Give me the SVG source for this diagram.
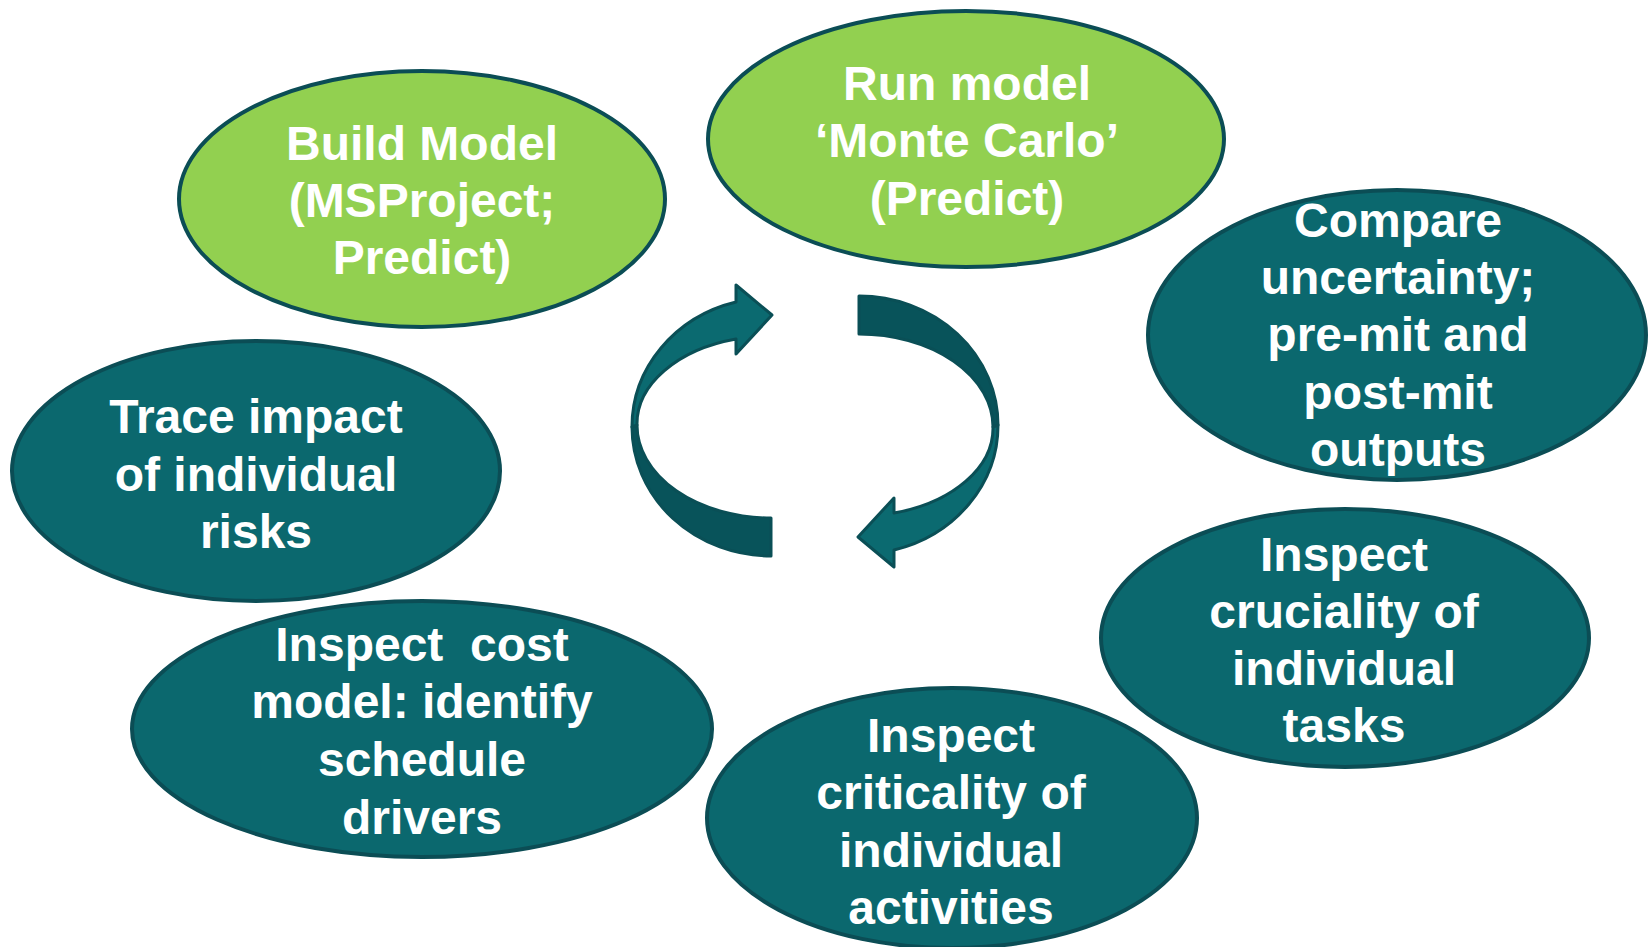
<svg xmlns="http://www.w3.org/2000/svg" width="1648" height="947" viewBox="0 0 1648 947">
<style>
.green{fill:#92D050;stroke:#0B4D55;stroke-width:4}
.teal{fill:#0B686E;stroke:#0B4D55;stroke-width:4}
.t{font-family:"Liberation Sans",Arial,sans-serif;font-weight:bold;font-size:48px;fill:#FFFFFF;text-anchor:middle;white-space:pre}
.light{fill:#0B6A70;stroke:#0A4F56;stroke-width:3;stroke-linejoin:round}
.dark{fill:#08535A;stroke:#0A4F56;stroke-width:3;stroke-linejoin:round}
</style>
<rect width="1648" height="947" fill="#FFFFFF"/>
<g id="connectors">
  <g id="arrow-left">
    <path class="dark" d="M632,427 A139,129 0 0 0 771,556 L771,518 A134,93 0 0 1 637,425 Z"/>
    <path class="light" d="M736,302 A139,129 0 0 0 632,427 L637,425 A134,88 0 0 1 736,339 L736,354 L772,315 L736,285 Z"/>
  </g>
  <g id="arrow-right" transform="rotate(180 815 426)">
    <path class="dark" d="M632,427 A139,129 0 0 0 771,556 L771,518 A134,93 0 0 1 637,425 Z"/>
    <path class="light" d="M736,302 A139,129 0 0 0 632,427 L637,425 A134,88 0 0 1 736,339 L736,354 L772,315 L736,285 Z"/>
  </g>
</g>
<g id="build-model">
  <ellipse class="green" cx="422" cy="199" rx="243" ry="128"/>
  <text class="t" x="422" y="160">Build Model</text>
  <text class="t" x="422" y="217">(MSProject;</text>
  <text class="t" x="422" y="274">Predict)</text>
</g>
<g id="run-model">
  <ellipse class="green" cx="966" cy="139" rx="258" ry="128"/>
  <text class="t" x="967" y="100">Run model</text>
  <text class="t" x="967" y="157">‘Monte Carlo’</text>
  <text class="t" x="967" y="215">(Predict)</text>
</g>
<g id="compare">
  <ellipse class="teal" cx="1397" cy="335" rx="249" ry="145"/>
  <text class="t" x="1398" y="237">Compare</text>
  <text class="t" x="1398" y="294">uncertainty;</text>
  <text class="t" x="1398" y="351">pre-mit and</text>
  <text class="t" x="1398" y="409">post-mit</text>
  <text class="t" x="1398" y="466">outputs</text>
</g>
<g id="trace-impact">
  <ellipse class="teal" cx="256" cy="471" rx="244" ry="130"/>
  <text class="t" x="256" y="433">Trace impact</text>
  <text class="t" x="256" y="491">of individual</text>
  <text class="t" x="256" y="548">risks</text>
</g>
<g id="inspect-cost">
  <ellipse class="teal" cx="422" cy="729" rx="290" ry="128"/>
  <text class="t" x="422" y="661">Inspect  cost</text>
  <text class="t" x="422" y="718">model: identify</text>
  <text class="t" x="422" y="776">schedule</text>
  <text class="t" x="422" y="834">drivers</text>
</g>
<g id="inspect-criticality">
  <ellipse class="teal" cx="952" cy="818" rx="245" ry="130"/>
  <text class="t" x="951" y="752">Inspect</text>
  <text class="t" x="951" y="809">criticality of</text>
  <text class="t" x="951" y="867">individual</text>
  <text class="t" x="951" y="924">activities</text>
</g>
<g id="inspect-cruciality">
  <ellipse class="teal" cx="1345" cy="638" rx="244" ry="129"/>
  <text class="t" x="1344" y="571">Inspect</text>
  <text class="t" x="1344" y="628">cruciality of</text>
  <text class="t" x="1344" y="685">individual</text>
  <text class="t" x="1344" y="742">tasks</text>
</g>
</svg>
